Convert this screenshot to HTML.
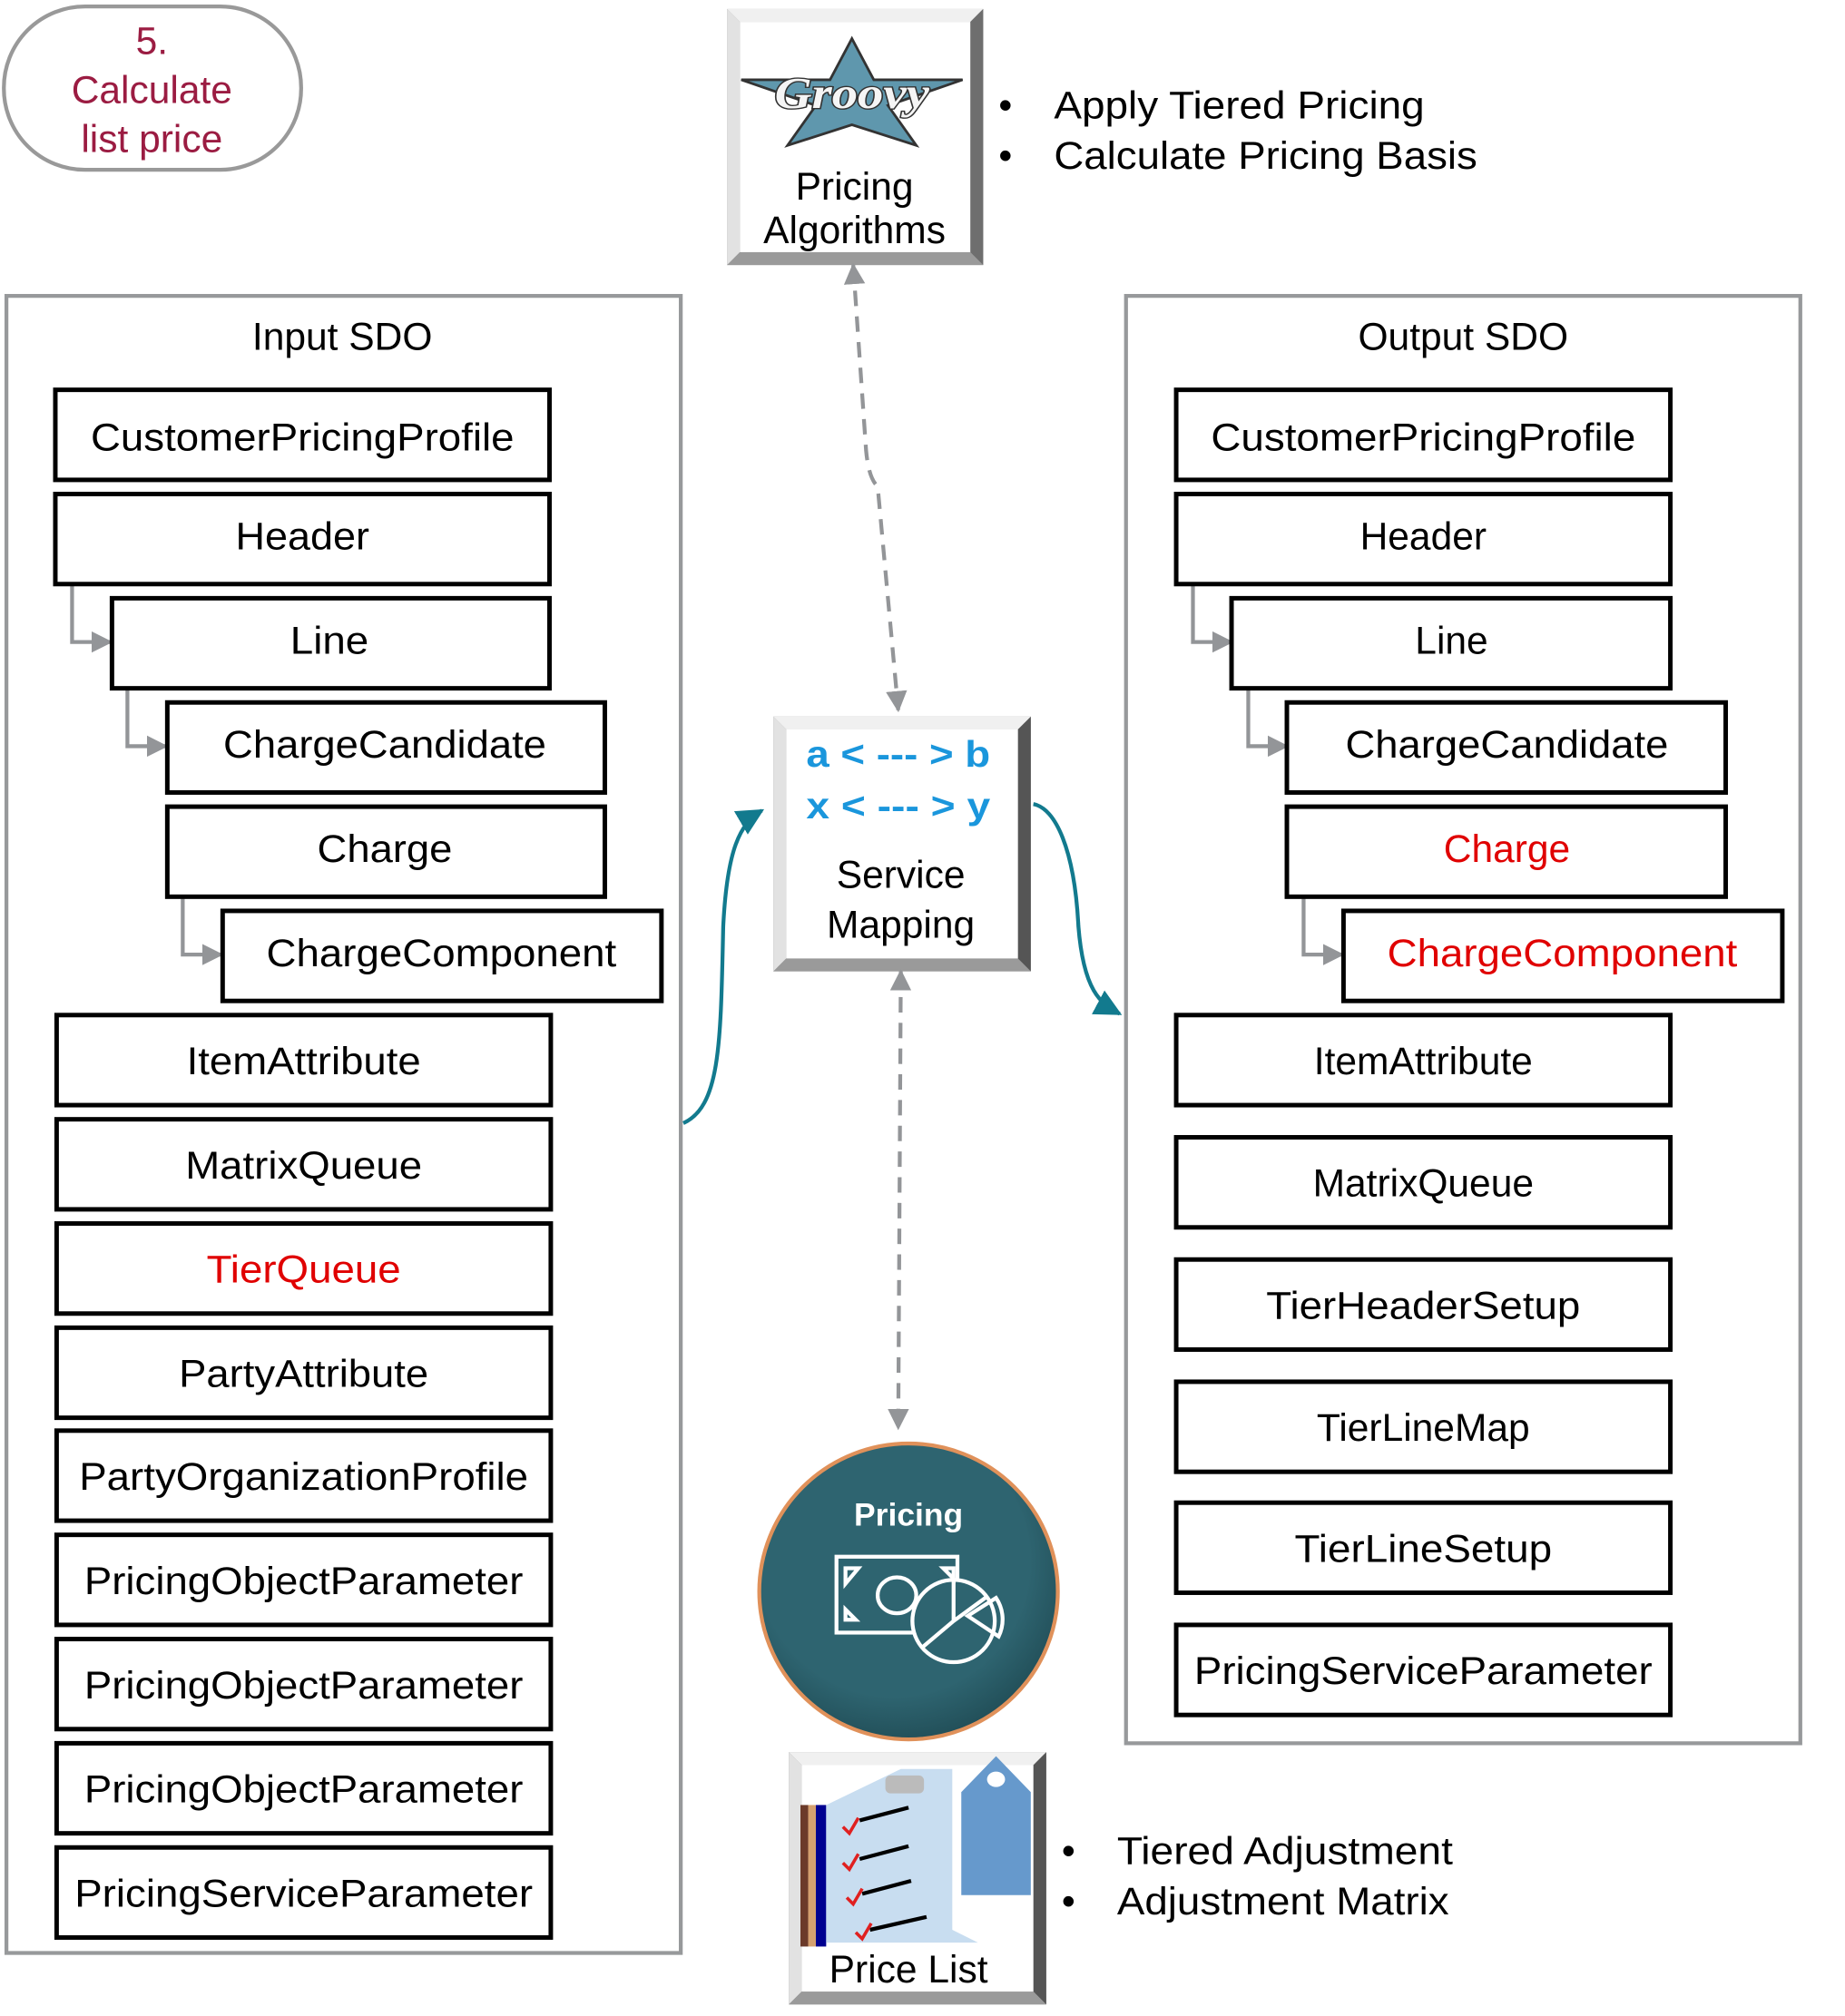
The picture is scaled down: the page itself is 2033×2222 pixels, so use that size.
<!DOCTYPE html>
<html><head><meta charset="utf-8"><style>html,body{margin:0;padding:0;background:#fff}svg{display:block}</style></head>
<body>
<svg width="2033" height="2222" viewBox="0 0 1433.7 1567" xmlns="http://www.w3.org/2000/svg" font-family="Liberation Sans, Arial, sans-serif">
<defs>
<marker id="ga" viewBox="0 0 10 10" refX="9" refY="5" markerWidth="5.5" markerHeight="5.5" orient="auto-start-reverse"><path d="M0,0L10,5L0,10z" fill="#939598"/></marker>
<marker id="ta" viewBox="0 0 10 10" refX="9" refY="5" markerWidth="7" markerHeight="7" orient="auto"><path d="M0,0L10,5L0,10z" fill="#127a8e"/></marker>
<radialGradient id="cg" cx="0.45" cy="0.4" r="0.65"><stop offset="0.7" stop-color="#2e6470"/><stop offset="1" stop-color="#1f4a53"/></radialGradient>
</defs>
<rect width="1433.7" height="1567" fill="#fff"/>

<!-- oval -->
<rect x="3" y="5" width="231" height="127" rx="63" fill="#fff" stroke="#999" stroke-width="3"/>
<g fill="#9b1c42" font-size="30" text-anchor="middle">
<text x="118" y="42">5.</text><text x="118" y="80">Calculate</text><text x="118" y="118">list price</text></g>

<!-- groovy box -->
<g>
<rect x="565" y="7" width="199" height="199" fill="#8a8a8a"/>
<polygon points="565,7 764,7 754,17 575,17" fill="#f0f0f0"/>
<polygon points="565,7 575,17 575,196 565,206" fill="#e2e2e2"/>
<polygon points="764,7 764,206 754,196 754,17" fill="#6e6e6e"/>
<polygon points="565,206 764,206 754,196 575,196" fill="#9a9a9a"/>
<rect x="575" y="17" width="179" height="179" fill="#fff"/>
<polygon points="662,30 679,62 748,62 690,82 712,113 662,97 612,113 634,82 576,62 645,62" fill="#5f97ad" stroke="#333" stroke-width="2"/>
<text x="662" y="84" text-anchor="middle" font-family="Liberation Serif, serif" font-style="italic" font-weight="bold" font-size="34" fill="#f5f5f5" stroke="#333" stroke-width="2" paint-order="stroke" textLength="120" lengthAdjust="spacingAndGlyphs">Groovy</text>
<g font-size="30" text-anchor="middle"><text x="664" y="155">Pricing</text><text x="664" y="189">Algorithms</text></g>
</g>
<g font-size="30"><text x="776" y="92">•</text><text x="819" y="92" textLength="288" lengthAdjust="spacingAndGlyphs">Apply Tiered Pricing</text>
<text x="776" y="131">•</text><text x="819" y="131" textLength="329" lengthAdjust="spacingAndGlyphs">Calculate Pricing Basis</text></g>

<!-- frames -->
<rect x="5" y="230" width="524" height="1288" fill="none" stroke="#97999b" stroke-width="3"/>
<rect x="875" y="230" width="524" height="1125" fill="none" stroke="#97999b" stroke-width="3"/>
<g font-size="30" text-anchor="middle"><text x="266" y="272">Input SDO</text><text x="1137" y="272">Output SDO</text></g>

<!-- elbows -->
<g fill="none" stroke="#939598" stroke-width="3" marker-end="url(#ga)">
<path d="M56,455V499H86"/><path d="M99,536V580H129"/><path d="M142,698V742H172"/>
<path d="M927,455V499H957"/><path d="M970,536V580H1000"/><path d="M1013,698V742H1043"/>
</g>

<!-- input boxes -->
<g fill="#fff" stroke="#000" stroke-width="3.5">
<rect x="43" y="303" width="384" height="70"/><rect x="43" y="384" width="384" height="70"/>
<rect x="87" y="465" width="340" height="70"/><rect x="130" y="546" width="340" height="70"/>
<rect x="130" y="627" width="340" height="70"/><rect x="173" y="708" width="341" height="70"/>
<rect x="44" y="789" width="384" height="70"/><rect x="44" y="870" width="384" height="70"/>
<rect x="44" y="951" width="384" height="70"/><rect x="44" y="1032" width="384" height="70"/>
<rect x="44" y="1112" width="384" height="70"/><rect x="44" y="1193" width="384" height="70"/>
<rect x="44" y="1274" width="384" height="70"/><rect x="44" y="1355" width="384" height="70"/>
<rect x="44" y="1436" width="384" height="70"/>
</g>
<g font-size="30" text-anchor="middle">
<text x="235" y="350" textLength="329" lengthAdjust="spacingAndGlyphs">CustomerPricingProfile</text>
<text x="235" y="427" textLength="104" lengthAdjust="spacingAndGlyphs">Header</text>
<text x="256" y="508" textLength="61" lengthAdjust="spacingAndGlyphs">Line</text>
<text x="299" y="589" textLength="251" lengthAdjust="spacingAndGlyphs">ChargeCandidate</text>
<text x="299" y="670" textLength="105" lengthAdjust="spacingAndGlyphs">Charge</text>
<text x="343" y="751" textLength="272" lengthAdjust="spacingAndGlyphs">ChargeComponent</text>
<text x="236" y="835" textLength="182" lengthAdjust="spacingAndGlyphs">ItemAttribute</text>
<text x="236" y="916" textLength="184" lengthAdjust="spacingAndGlyphs">MatrixQueue</text>
<text x="236" y="997" fill="#e00000" textLength="151" lengthAdjust="spacingAndGlyphs">TierQueue</text>
<text x="236" y="1078" textLength="194" lengthAdjust="spacingAndGlyphs">PartyAttribute</text>
<text x="236" y="1158" textLength="349" lengthAdjust="spacingAndGlyphs">PartyOrganizationProfile</text>
<text x="236" y="1239" textLength="341" lengthAdjust="spacingAndGlyphs">PricingObjectParameter</text>
<text x="236" y="1320" textLength="341" lengthAdjust="spacingAndGlyphs">PricingObjectParameter</text>
<text x="236" y="1401" textLength="341" lengthAdjust="spacingAndGlyphs">PricingObjectParameter</text>
<text x="236" y="1482" textLength="356" lengthAdjust="spacingAndGlyphs">PricingServiceParameter</text>
</g>

<!-- output boxes -->
<g fill="#fff" stroke="#000" stroke-width="3.5">
<rect x="914" y="303" width="384" height="70"/><rect x="914" y="384" width="384" height="70"/>
<rect x="957" y="465" width="341" height="70"/><rect x="1000" y="546" width="341" height="70"/>
<rect x="1000" y="627" width="341" height="70"/><rect x="1044" y="708" width="341" height="70"/>
<rect x="914" y="789" width="384" height="70"/><rect x="914" y="884" width="384" height="70"/>
<rect x="914" y="979" width="384" height="70"/><rect x="914" y="1074" width="384" height="70"/>
<rect x="914" y="1168" width="384" height="70"/><rect x="914" y="1263" width="384" height="70"/>
</g>
<g font-size="30" text-anchor="middle">
<text x="1106" y="350" textLength="330" lengthAdjust="spacingAndGlyphs">CustomerPricingProfile</text>
<text x="1106" y="427">Header</text>
<text x="1128" y="508">Line</text>
<text x="1171" y="589" textLength="251" lengthAdjust="spacingAndGlyphs">ChargeCandidate</text>
<text x="1171" y="670" fill="#e00000">Charge</text>
<text x="1214" y="751" fill="#e00000" textLength="272" lengthAdjust="spacingAndGlyphs">ChargeComponent</text>
<text x="1106" y="835">ItemAttribute</text>
<text x="1106" y="930">MatrixQueue</text>
<text x="1106" y="1025" textLength="244" lengthAdjust="spacingAndGlyphs">TierHeaderSetup</text>
<text x="1106" y="1120">TierLineMap</text>
<text x="1106" y="1214" textLength="200" lengthAdjust="spacingAndGlyphs">TierLineSetup</text>
<text x="1106" y="1309" textLength="356" lengthAdjust="spacingAndGlyphs">PricingServiceParameter</text>
</g>

<!-- service mapping -->
<rect x="601" y="557" width="200" height="198" fill="#8a8a8a"/>
<polygon points="601,557 801,557 791,567 611,567" fill="#f0f0f0"/>
<polygon points="601,557 611,567 611,745 601,755" fill="#e2e2e2"/>
<polygon points="801,557 801,755 791,745 791,567" fill="#555"/>
<polygon points="601,755 801,755 791,745 611,745" fill="#9a9a9a"/>
<rect x="611" y="567" width="180" height="178" fill="#fff"/>
<g font-size="29" font-weight="bold" fill="#1a96dc" text-anchor="middle"><text x="698" y="596" textLength="143" lengthAdjust="spacingAndGlyphs">a &lt; --- &gt; b</text><text x="698" y="636" textLength="143" lengthAdjust="spacingAndGlyphs">x &lt; --- &gt; y</text></g>
<g font-size="30" text-anchor="middle"><text x="700" y="690">Service</text><text x="700" y="729">Mapping</text></g>

<!-- teal curves -->
<path d="M531,873C560,860 560,810 562,720C565,660 575,640 592,630" fill="none" stroke="#127a8e" stroke-width="3" marker-end="url(#ta)"/>
<path d="M803,625C820,628 835,660 838,720C842,770 855,780 870,788" fill="none" stroke="#127a8e" stroke-width="3" marker-end="url(#ta)"/>

<!-- dashed -->
<path d="M663,206L673,350Q675,372 682,378L698,552" fill="none" stroke="#939598" stroke-width="3" stroke-dasharray="12,8" marker-start="url(#ga)" marker-end="url(#ga)"/>
<path d="M700,755L698,1110" fill="none" stroke="#939598" stroke-width="3" stroke-dasharray="12,8" marker-start="url(#ga)" marker-end="url(#ga)"/>

<!-- pricing circle -->
<ellipse cx="706" cy="1237" rx="116" ry="115" fill="url(#cg)" stroke="#e0915a" stroke-width="3"/>
<text x="706" y="1186" font-size="25" font-weight="bold" fill="#fff" text-anchor="middle">Pricing</text>
<g fill="none" stroke="#fff" stroke-width="3">
<rect x="650" y="1210" width="94" height="59"/>
<ellipse cx="697" cy="1240" rx="15" ry="14" fill="#2e6470"/>
<circle cx="741" cy="1260" r="32" fill="#2e6470"/>
<path d="M741,1260V1228M741,1260L767,1241M741,1260L716,1281"/>
<path d="M752,1256L774,1242A30,30 0 0 1 776,1272Z"/>
<path d="M657,1219h10l-10,12zM657,1259v-8l8,8zM733,1219h8v8z"/>
</g>

<!-- price list -->
<rect x="613" y="1362" width="200" height="196" fill="#8a8a8a"/>
<polygon points="613,1362 813,1362 803,1372 623,1372" fill="#f0f0f0"/>
<polygon points="613,1362 623,1372 623,1548 613,1558" fill="#e2e2e2"/>
<polygon points="813,1362 813,1558 803,1548 803,1372" fill="#555"/>
<polygon points="613,1558 813,1558 803,1548 623,1548" fill="#9a9a9a"/>
<rect x="623" y="1372" width="180" height="176" fill="#fff"/>
<rect x="622" y="1403" width="6" height="110" fill="#6b3a2a"/>
<rect x="628" y="1403" width="6" height="110" fill="#d4a070"/>
<rect x="634" y="1403" width="8" height="110" fill="#000090"/>
<path d="M642,1403L700,1375H740V1500L760,1510H642Z" fill="#c8ddf0"/>
<rect x="688" y="1380" width="30" height="14" fill="#bbb" rx="4"/>
<g stroke="#000" stroke-width="3"><path d="M668,1415L706,1405M668,1445L706,1435M670,1472L708,1462M676,1500L720,1490"/></g>
<g stroke="#e02020" stroke-width="2.5" fill="none"><path d="M655,1420l5,5l7,-12M655,1448l5,5l7,-12M658,1475l5,5l7,-12M665,1502l5,5l7,-12"/></g>
<polygon points="747,1393 774,1365 801,1393 801,1473 747,1473" fill="#6699cc"/>
<ellipse cx="774" cy="1383" rx="7" ry="6" fill="#fff"/>
<text x="706" y="1541" font-size="30" text-anchor="middle">Price List</text>
<g font-size="30"><text x="825" y="1449">•</text><text x="868" y="1449" textLength="261" lengthAdjust="spacingAndGlyphs">Tiered Adjustment</text>
<text x="825" y="1488">•</text><text x="868" y="1488" textLength="258" lengthAdjust="spacingAndGlyphs">Adjustment Matrix</text></g>
</svg>
</body></html>
